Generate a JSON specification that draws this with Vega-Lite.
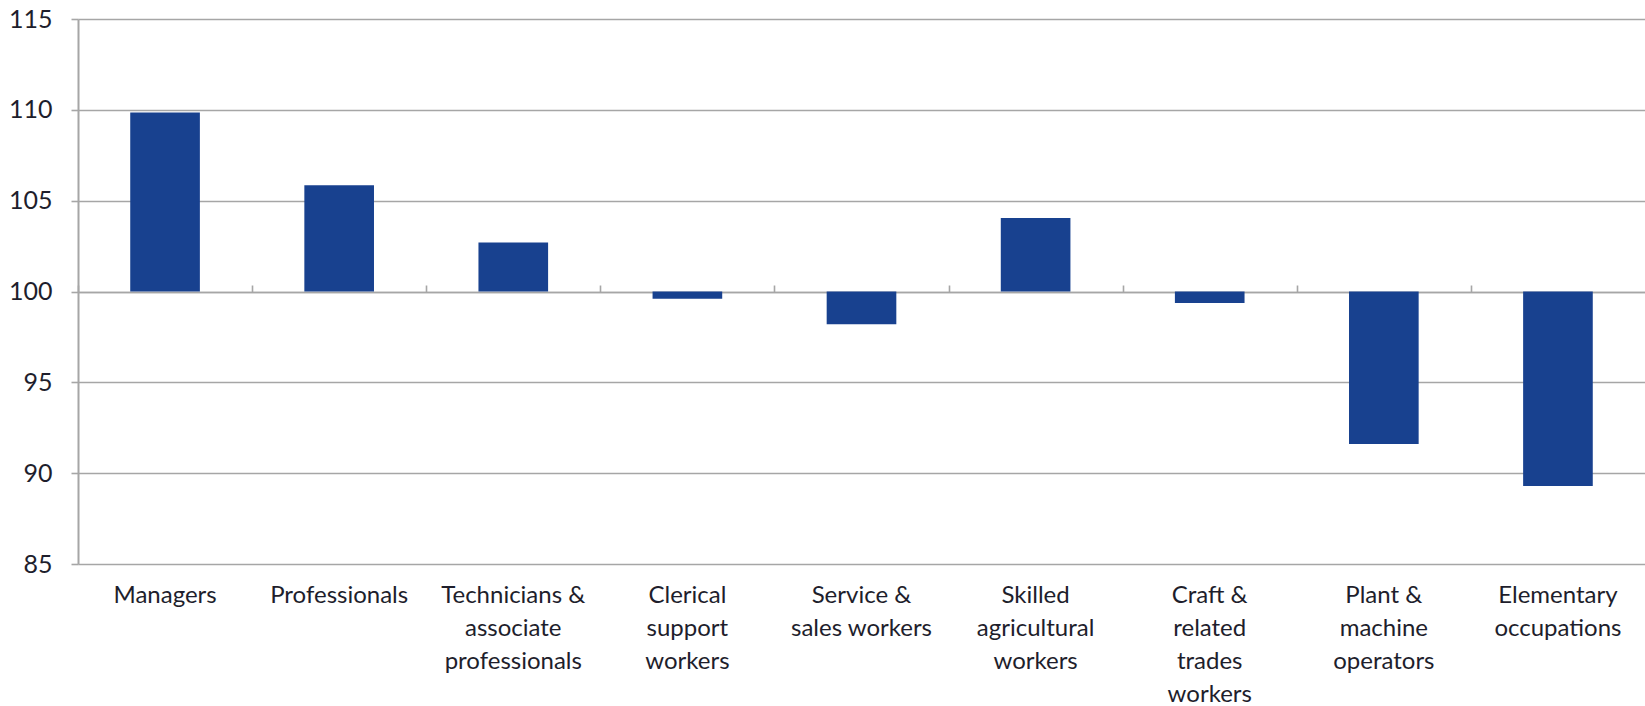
{
  "$schema": "https://vega.github.io/schema/vega-lite/v6.json",
  "autosize": "none",
  "width": 1567,
  "height": 545,
  "padding": {"left": 78, "top": 19, "right": 0, "bottom": 142},
  "background": "white",
  "data": {
    "values": [
      {"occupation": "Managers", "index": 109.85},
      {"occupation": "Professionals", "index": 105.85},
      {"occupation": "Technicians & associate professionals", "index": 102.7},
      {"occupation": "Clerical support workers", "index": 99.6},
      {"occupation": "Service & sales workers", "index": 98.2},
      {"occupation": "Skilled agricultural workers", "index": 104.05},
      {"occupation": "Craft & related trades workers", "index": 99.37},
      {"occupation": "Plant & machine operators", "index": 91.6},
      {"occupation": "Elementary occupations", "index": 89.3}
    ]
  },
  "config": {
    "view": {"stroke": null},
    "font": "Lato",
    "axis": {"labelFont": "Lato", "labelColor": "#1e1e2c"}
  },
  "resolve": {"axis": {"x": "independent", "y": "independent"}},
  "layer": [
    {
      "mark": {"type": "bar", "color": "#18418f"},
      "encoding": {
        "x": {
          "field": "occupation",
          "type": "nominal",
          "sort": null,
          "scale": {"paddingInner": 0.6, "paddingOuter": 0.3},
          "axis": {
            "title": null,
            "domain": false,
            "ticks": false,
            "grid": false,
            "labelAngle": 0,
            "labelFontSize": 24,
            "labelPadding": 19,
            "labelBaseline": "top",
            "labelLineHeight": 33,
            "labelAlign": "center",
            "labelExpr": "datum.value == 'Technicians & associate professionals' ? ['Technicians &', 'associate', 'professionals'] : datum.value == 'Clerical support workers' ? ['Clerical', 'support', 'workers'] : datum.value == 'Service & sales workers' ? ['Service &', 'sales workers'] : datum.value == 'Skilled agricultural workers' ? ['Skilled', 'agricultural', 'workers'] : datum.value == 'Craft & related trades workers' ? ['Craft &', 'related', 'trades', 'workers'] : datum.value == 'Plant & machine operators' ? ['Plant &', 'machine', 'operators'] : datum.value == 'Elementary occupations' ? ['Elementary', 'occupations'] : datum.value"
          }
        },
        "y": {
          "field": "index",
          "type": "quantitative",
          "scale": {"domain": [85, 115], "nice": false, "zero": false},
          "axis": {
            "title": null,
            "values": [85, 90, 95, 100, 105, 110, 115],
            "domain": true,
            "domainColor": "#a6a6a6",
            "domainWidth": 2,
            "grid": true,
            "gridColor": "#a6a6a6",
            "gridWidth": 1.6,
            "ticks": true,
            "tickColor": "#a6a6a6",
            "tickWidth": 1.6,
            "tickSize": 7,
            "labelFontSize": 25,
            "labelPadding": 19,
            "labelBaseline": "middle"
          }
        },
        "y2": {"datum": 100}
      }
    },
    {
      "mark": {"type": "rule", "opacity": 0},
      "encoding": {
        "x": {
          "field": "occupation",
          "type": "nominal",
          "sort": null,
          "axis": {
            "title": null,
            "labels": false,
            "domain": true,
            "domainColor": "#a6a6a6",
            "domainWidth": 1.6,
            "grid": false,
            "ticks": true,
            "tickColor": "#a6a6a6",
            "tickWidth": 1.6,
            "tickSize": 7,
            "tickOffset": -87,
            "offset": -273
          }
        },
        "y": {"datum": 100, "type": "quantitative", "axis": null}
      }
    }
  ]
}
